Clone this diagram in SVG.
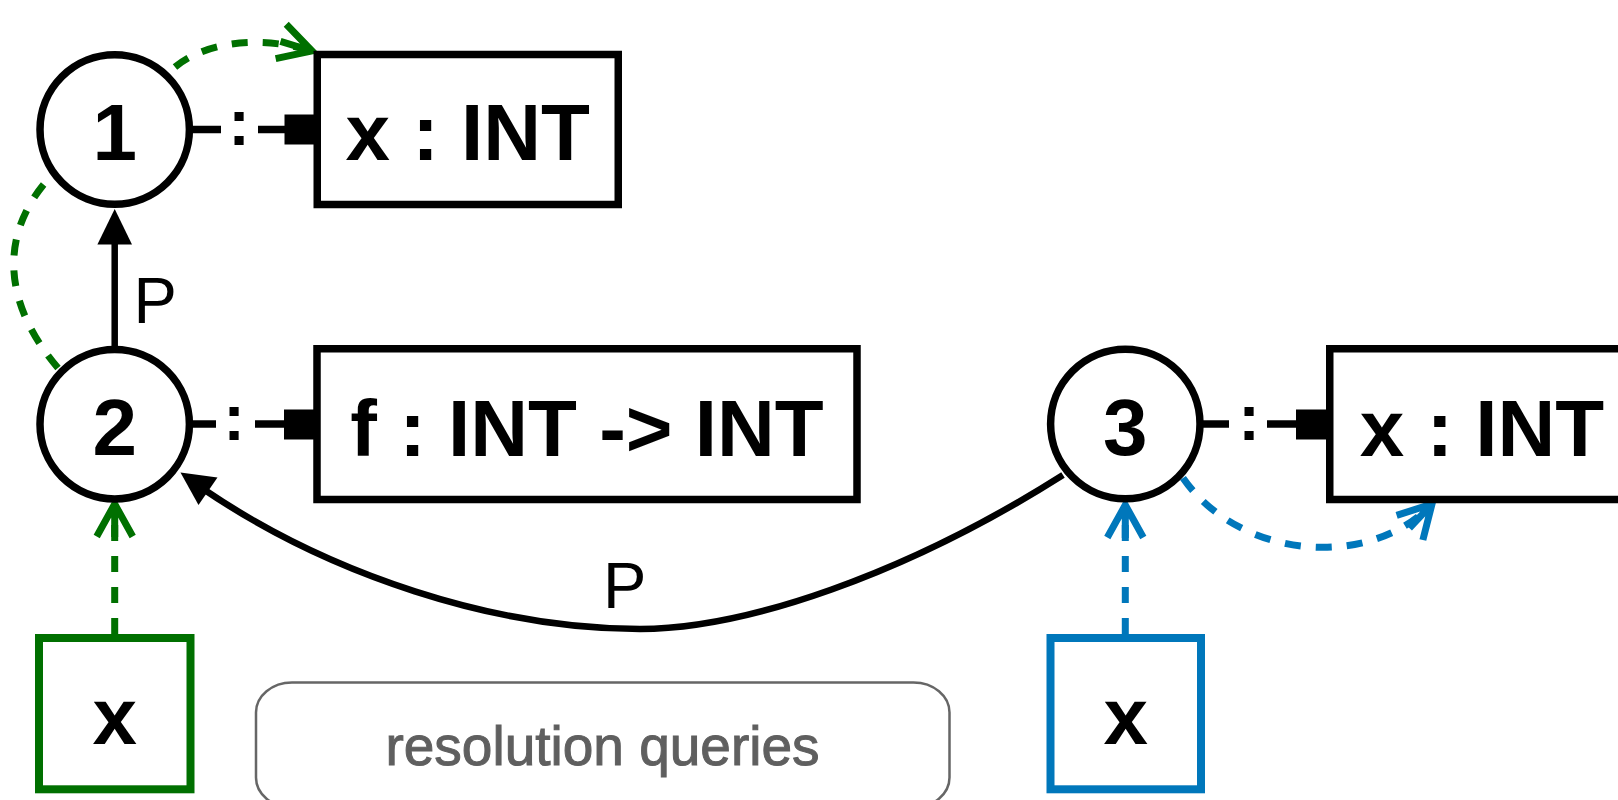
<svg xmlns="http://www.w3.org/2000/svg" width="1618" height="800" viewBox="0 0 1618 800">
  <style>
    .scope circle { fill: #fff; stroke: #000; stroke-width: 7.5; }
    .decl rect { fill: #fff; stroke: #000; stroke-width: 7.5; }
    .big { font-family: "Liberation Sans", Arial, sans-serif; font-weight: bold; font-size: 80px; text-anchor: middle; fill: #000; }
    .edge-label { font-family: "Liberation Sans", Arial, sans-serif; font-size: 65px; fill: #000; }
    .colon { font-family: "Liberation Sans", Arial, sans-serif; font-weight: bold; font-size: 65px; text-anchor: middle; fill: #000; }
    .stub { stroke: #000; stroke-width: 7.5; fill: none; }
    .solid { stroke: #000; stroke-width: 6.5; fill: none; }
    .green { stroke: #007000; stroke-width: 7; fill: none; stroke-dasharray: 16 15; }
    .blue { stroke: #0077bb; stroke-width: 7; fill: none; stroke-dasharray: 16 15; }
    .query-green rect { fill: #fff; stroke: #007000; stroke-width: 8; }
    .query-blue rect { fill: #fff; stroke: #0077bb; stroke-width: 8; }
    .legend rect { fill: #fff; stroke: #666; stroke-width: 2.5; }
    .legend text { font-family: "Liberation Sans", Arial, sans-serif; font-size: 55px; text-anchor: middle; fill: #5f5f5f; stroke: #5f5f5f; stroke-width: 1; }
  </style>
  <defs>
    <marker id="open-green" markerUnits="userSpaceOnUse" orient="auto" refX="0" refY="0" markerWidth="80" markerHeight="80" viewBox="-40 -40 80 80" overflow="visible">
      <path d="M-32.5,-18 L0,0 L-32.5,18 M0,0 L-33,0" fill="none" stroke="#007000" stroke-width="7" stroke-linejoin="miter"/>
    </marker>
    <marker id="open-blue" markerUnits="userSpaceOnUse" orient="auto" refX="0" refY="0" markerWidth="80" markerHeight="80" viewBox="-40 -40 80 80" overflow="visible">
      <path d="M-32.5,-18 L0,0 L-32.5,18 M0,0 L-33,0" fill="none" stroke="#0077bb" stroke-width="7" stroke-linejoin="miter"/>
    </marker>
  </defs>

  <rect width="1618" height="800" fill="#fff"/>

  <g id="connectors">
    <!-- scope 2 -P-> scope 1 -->
    <line class="solid" x1="114.7" y1="346" x2="114.7" y2="240"/>
    <polygon points="114.7,209 97.4,244.5 132,244.5" fill="#000"/>
    <text class="edge-label" x="133.5" y="322.7">P</text>

    <!-- scope 3 -P-> scope 2 -->
    <path class="solid" d="M1063,475 C905,575 745,629 640,629 C495,629 330,575 204,489.5"/>
    <polygon points="180.5,472.5 217.5,477.5 198.5,505" fill="#000"/>
    <text class="edge-label" x="603" y="608">P</text>

    <!-- declaration stubs -->
    <line class="stub" x1="190" y1="129.5" x2="221" y2="129.5"/>
    <line class="stub" x1="258" y1="129.5" x2="286" y2="129.5"/>
    <rect x="284.5" y="114.5" width="30" height="30" fill="#000"/>
    <text class="colon" x="239" y="145">:</text>

    <line class="stub" x1="190" y1="424" x2="216" y2="424"/>
    <line class="stub" x1="255" y1="424" x2="286" y2="424"/>
    <rect x="284" y="409.5" width="30" height="30" fill="#000"/>
    <text class="colon" x="234" y="440">:</text>

    <line class="stub" x1="1201" y1="424" x2="1229" y2="424"/>
    <line class="stub" x1="1267" y1="424" x2="1298" y2="424"/>
    <rect x="1296" y="409.5" width="31" height="30" fill="#000"/>
    <text class="colon" x="1249" y="440">:</text>

    <!-- resolution path for the green query -->
    <path class="green" d="M114.7,634 L114.7,504" marker-end="url(#open-green)"/>
    <path class="green" d="M58,368 C0,300 0,230 52,175"/>
    <path class="green" d="M175,67 C205,42 260,35 312,51" marker-end="url(#open-green)"/>

    <!-- resolution path for the blue query -->
    <path class="blue" d="M1125.3,634 L1125.3,505" marker-end="url(#open-blue)"/>
    <path class="blue" d="M1183,478 C1240,560 1370,570 1432,504" marker-end="url(#open-blue)"/>
  </g>

  <g id="scope-1" class="scope">
    <circle cx="114.7" cy="129.5" r="74.7"/>
    <text class="big" x="114.7" y="159.5">1</text>
  </g>
  <g id="scope-2" class="scope">
    <circle cx="114.7" cy="424.2" r="74.7"/>
    <text class="big" x="114.7" y="454.5">2</text>
  </g>
  <g id="scope-3" class="scope">
    <circle cx="1125.3" cy="424" r="74.7"/>
    <text class="big" x="1125.3" y="454.5">3</text>
  </g>

  <g id="decl-x-1" class="decl">
    <rect x="317.25" y="54.5" width="301" height="150"/>
    <text class="big" x="467.75" y="159.5">x : INT</text>
  </g>
  <g id="decl-f" class="decl">
    <rect x="317" y="348.75" width="540" height="150.75"/>
    <text class="big" x="587" y="456">f : INT -&gt; INT</text>
  </g>
  <g id="decl-x-3" class="decl">
    <rect x="1329.75" y="348.75" width="301" height="150.75"/>
    <text class="big" x="1482" y="456">x : INT</text>
  </g>

  <g id="query-green" class="query-green">
    <rect x="39" y="638" width="151.5" height="151.3"/>
    <text class="big" x="114.7" y="744">x</text>
  </g>
  <g id="query-blue" class="query-blue">
    <rect x="1050.5" y="638" width="150.5" height="151.3"/>
    <text class="big" x="1125.8" y="744">x</text>
  </g>

  <g id="legend" class="legend">
    <rect x="256" y="682.5" width="693.5" height="125" rx="36" ry="30"/>
    <text x="602.5" y="765">resolution queries</text>
  </g>
</svg>
